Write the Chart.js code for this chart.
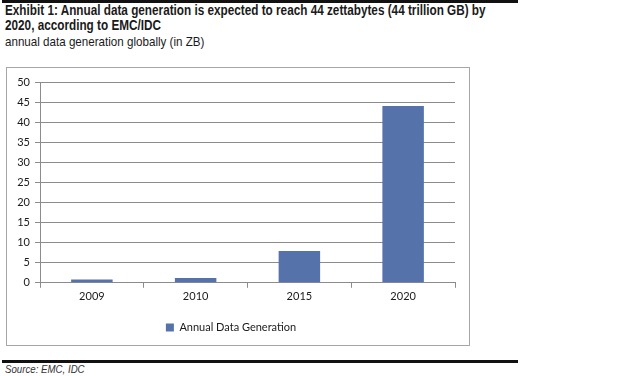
<!DOCTYPE html>
<html>
<head>
<meta charset="utf-8">
<script src="https://cdn.jsdelivr.net/npm/chart.js@4.4.1/dist/chart.umd.min.js"></script>
<style>
  body { margin: 0; width: 640px; height: 376px; background: #fff; position: relative; overflow: hidden; }
  .rule { position: absolute; left: 2px; width: 516px; height: 3px; background: #111; }
  #title { position: absolute; left: 5px; top: 3px; font-family: 'Liberation Sans', sans-serif; font-weight: bold; font-size: 14.5px; line-height: 15px; color: #1a1a1a; transform: scaleX(0.81); transform-origin: 0 0; white-space: nowrap; }
  #subtitle { position: absolute; left: 5px; top: 34px; font-family: 'Liberation Sans', sans-serif; font-size: 13.5px; color: #1a1a1a; transform: scaleX(0.86); transform-origin: 0 0; white-space: nowrap; }
  #box { position: absolute; left: 6px; top: 67px; width: 462px; height: 277px; border: 1px solid #a6a6a6; }
  #myChart { position: absolute; left: 7px; top: 68px; }
  #source { position: absolute; left: 5px; top: 363px; font-family: 'Liberation Sans', sans-serif; font-style: italic; font-size: 11px; color: #333; transform: scaleX(0.88); transform-origin: 0 0; }
</style>
</head>
<body>
<div class="rule" style="top:0"></div>
<div id="title">Exhibit 1: Annual data generation is expected to reach 44 zettabytes (44 trillion GB) by<br>2020, according to EMC/IDC</div>
<div id="subtitle">annual data generation globally (in ZB)</div>
<div id="box"></div>
<canvas id="myChart" width="462" height="275"></canvas>
<div class="rule" style="top:360px"></div>
<div id="source">Source: EMC, IDC</div>
<script>
const years = ['2009', '2010', '2015', '2020'];
const zettabytes = [0.8, 1.2, 7.9, 44];
const seriesName = 'Annual Data Generation';

const tickFont = { family: 'Lato, Open Sans, sans-serif', size: 11 };

const myChart = new Chart(document.getElementById('myChart'), {
    type: 'bar',
    data: {
        labels: years,
        datasets: [{
            label: seriesName,
            data: zettabytes,
            backgroundColor: '#5672ab',
            barPercentage: 0.4,
            categoryPercentage: 1.0,
        }]
    },
    options: {
        responsive: false,
        animation: false,
        layout: { padding: { left: 0, right: 14, top: 14, bottom: 0 } },
        plugins: {
            legend: {
                position: 'bottom',
                labels: { boxWidth: 8, boxHeight: 8, color: '#1a1a1a', font: tickFont, padding: 17 }
            },
            tooltip: { enabled: false }
        },
        scales: {
            x: {
                grid: { display: true, drawOnChartArea: false, offset: true, tickLength: 5, color: '#8c8c8c' },
                border: { color: '#8c8c8c', width: 1 },
                ticks: { color: '#1a1a1a', font: tickFont, padding: 2 }
            },
            y: {
                min: 0,
                max: 50,
                afterFit: (scale) => { scale.width = 33; },
                ticks: { stepSize: 5, color: '#1a1a1a', font: tickFont, padding: 5 },
                grid: { color: '#8c8c8c', tickLength: 5 },
                border: { color: '#8c8c8c', width: 1 }
            }
        }
    }
});
</script>
</body>
</html>
